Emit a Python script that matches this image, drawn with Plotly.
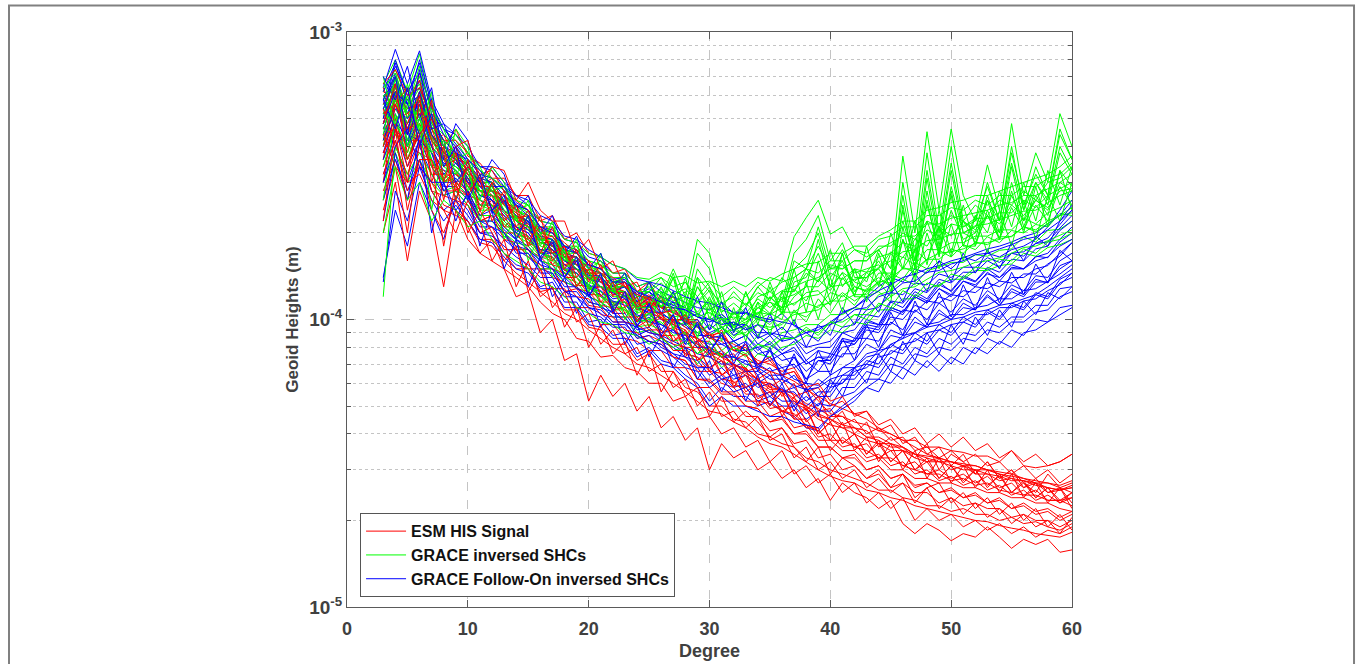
import plotly.graph_objects as go

# Spherical-harmonic degree 3..60
degrees = list(range(3, 61))

# Geoid height per degree, in units of 1e-5 m
UNIT = 1e-5

esm_his_signal = [
    [58, 70, 50, 72, 55, 40, 46, 37, 35, 31, 31, 27, 27, 22, 23, 19, 20, 17, 16.5, 14.5, 15, 12.5, 13.5, 11.5, 12, 10, 10, 8.6, 9.2, 7.8, 8.0, 7.0, 7.2, 6.4, 6.6, 5.6, 5.8, 5.0, 5.2, 4.7, 4.8, 4.3, 4.5, 4.0, 4.2, 3.7, 4.0, 3.6, 3.9, 3.5, 3.7, 3.3, 3.5, 3.2, 3.4, 3.1, 3.2, 3.4],
    [20, 30, 16, 28, 22, 13, 24, 19, 17, 16, 15, 12, 12.5, 9, 10, 7.2, 7.6, 5.2, 6.4, 5.4, 6.0, 4.8, 5.4, 4.2, 4.6, 3.8, 4.2, 3.0, 3.7, 3.3, 3.5, 3.0, 3.2, 2.8, 3.0, 2.6, 2.8, 2.35, 2.7, 2.5, 2.4, 2.2, 2.35, 1.95, 1.8, 1.95, 1.85, 1.7, 1.8, 1.75, 1.9, 1.75, 1.6, 1.72, 1.65, 1.72, 1.55, 1.58],
    [28, 36, 26, 36, 24, 20, 26, 21, 17, 19, 15, 14, 13, 11.5, 10.5, 10, 8.6, 8.4, 7.4, 7.5, 6.8, 6.6, 6.0, 6.0, 5.2, 5.4, 4.5, 4.6, 4.0, 4.2, 3.6, 3.8, 3.2, 3.5, 2.9, 3.1, 2.7, 2.9, 2.5, 2.7, 2.3, 2.5, 2.2, 2.4, 2.0, 2.2, 2.0, 2.1, 1.9, 2.0, 1.85, 1.95, 1.8, 1.9, 1.75, 1.85, 1.8, 1.9],
    [62, 58, 48, 62, 42, 44, 36, 35, 29, 31, 25, 25, 21, 21, 18, 18, 15.5, 15.5, 13.5, 13.8, 12, 12.5, 11, 11.5, 10, 10, 8.4, 8.4, 7.4, 7.6, 6.6, 6.8, 5.8, 6.2, 5.4, 5.6, 4.8, 4.9, 4.3, 4.5, 4.0, 4.2, 3.8, 3.9, 3.5, 3.6, 3.3, 3.5, 3.2, 3.4, 3.1, 3.2, 2.9, 3.1, 2.8, 3.0, 2.7, 2.9],
    [42, 60, 38, 54, 34, 36, 30, 31, 25, 27, 21, 23, 18, 19.5, 15.5, 17, 13, 14.5, 11.5, 12.8, 10.5, 11.2, 9.5, 10.2, 8.4, 8.9, 7.2, 7.6, 6.4, 6.8, 5.6, 6.0, 5.0, 5.6, 4.6, 4.9, 4.0, 4.4, 3.7, 4.0, 3.4, 3.7, 3.2, 3.5, 3.0, 3.2, 2.8, 3.1, 2.75, 3.0, 2.65, 2.85, 2.5, 2.75, 2.4, 2.6, 2.35, 2.5],
    [38, 46, 40, 38, 36, 28, 28, 27, 22, 23, 20, 17.5, 17.5, 15, 15, 12.5, 12.8, 11.2, 11, 9.8, 9.8, 8.6, 8.8, 8.4, 7.4, 7.2, 6.2, 6.2, 5.6, 5.6, 5.0, 4.9, 4.4, 4.6, 4.0, 4.1, 3.6, 3.6, 3.3, 3.4, 3.0, 3.1, 2.8, 2.9, 2.6, 2.7, 2.5, 2.6, 2.4, 2.5, 2.3, 2.4, 2.2, 2.3, 2.15, 2.2, 2.05, 2.15],
    [50, 64, 58, 68, 46, 40, 36, 32, 28, 28, 25, 23, 21, 19.5, 18, 16.5, 15.5, 14.5, 13.5, 13, 12.5, 11.5, 11.5, 11, 10.5, 10, 9.6, 8.8, 8.6, 8.2, 7.8, 7.2, 7.0, 6.6, 6.8, 5.8, 5.2, 4.7, 4.6, 4.2, 4.1, 3.7, 3.7, 3.5, 3.4, 3.2, 3.3, 3.0, 3.1, 2.9, 2.9, 2.75, 2.8, 2.6, 2.7, 2.5, 2.55, 2.6],
    [34, 44, 42, 42, 38, 31, 33, 27, 26, 24, 23, 19.5, 19.5, 16.5, 16.5, 14, 14, 12.2, 12.2, 10.8, 11, 9.4, 10, 8.8, 8.8, 7.6, 7.4, 6.6, 6.5, 5.9, 5.8, 5.2, 5.1, 4.8, 4.7, 4.3, 4.1, 3.8, 3.8, 3.6, 3.5, 3.3, 3.3, 3.1, 3.0, 2.9, 2.9, 2.75, 2.8, 2.65, 2.7, 2.55, 2.5, 2.45, 2.45, 2.35, 2.35, 2.25],
    [64, 50, 52, 58, 42, 38, 36, 30, 28, 27, 24, 22, 21, 18.5, 18, 16, 15, 14, 13, 12.5, 11.5, 11, 10.5, 10.2, 9.4, 9.0, 8.0, 7.6, 7.2, 6.8, 6.4, 6.0, 5.6, 5.6, 5.1, 4.9, 4.5, 4.3, 4.2, 4.0, 3.8, 3.7, 3.5, 3.5, 3.3, 3.2, 3.2, 3.1, 3.0, 3.0, 2.9, 2.85, 2.75, 2.75, 2.65, 2.6, 2.55, 2.6],
    [26, 40, 32, 42, 28, 27, 26, 25, 20, 21, 17.5, 17.5, 15, 15, 12.8, 12.8, 11, 11, 9.6, 9.6, 8.6, 8.4, 7.8, 7.8, 6.8, 6.8, 5.8, 5.8, 5.2, 5.2, 4.6, 4.6, 4.1, 4.2, 3.7, 3.8, 3.3, 3.4, 3.0, 3.1, 2.8, 2.9, 2.6, 2.7, 2.5, 2.5, 2.3, 2.4, 2.25, 2.3, 2.2, 2.2, 2.05, 2.1, 2.0, 2.0, 1.9, 2.0],
    [48, 62, 54, 56, 44, 37, 37, 31, 30, 27, 26, 22, 22, 18.5, 18.5, 15.5, 16, 13.8, 13.8, 12.2, 12.5, 10.8, 11.4, 10, 10, 8.8, 8.6, 7.6, 7.6, 6.9, 6.8, 6.1, 6.0, 5.7, 5.5, 5.1, 4.9, 4.6, 4.6, 4.4, 4.3, 4.1, 4.0, 3.8, 3.8, 3.6, 3.6, 3.5, 3.45, 3.35, 3.35, 3.2, 3.5, 3.1, 3.05, 3.1, 3.2, 3.4],
    [46, 50, 34, 46, 34, 33, 30, 28, 23, 25, 20, 20, 17.5, 16.5, 15, 14.5, 12.8, 12.5, 11.2, 11, 9.8, 9.6, 9.0, 8.8, 7.8, 7.8, 6.6, 6.6, 6.0, 5.8, 5.2, 5.2, 4.6, 4.8, 4.2, 4.3, 3.8, 3.8, 3.5, 3.5, 3.2, 3.3, 3.0, 3.0, 2.8, 2.8, 2.7, 2.7, 2.6, 2.6, 2.5, 2.5, 2.4, 2.4, 2.3, 2.3, 2.2, 2.15],
    [36, 62, 44, 56, 44, 34, 36, 29, 28, 25, 24, 20.5, 21, 17, 17.5, 14.8, 15, 12.8, 13, 11.2, 11.8, 9.8, 10.8, 9.0, 9.4, 8.0, 8.0, 6.8, 7.2, 6.0, 6.4, 5.3, 5.6, 4.8, 5.0, 4.2, 4.2, 3.5, 3.9, 3.6, 3.7, 3.3, 3.5, 3.1, 3.2, 2.9, 3.0, 2.8, 2.9, 2.7, 2.85, 2.6, 2.7, 2.45, 2.55, 2.35, 2.35, 2.4],
    [32, 42, 28, 34, 30, 25, 24, 22, 19, 19, 17, 15, 15, 12.5, 12.8, 10.8, 10.8, 9.4, 9.2, 8.2, 8.2, 7.2, 7.6, 6.6, 6.6, 5.8, 5.6, 5.0, 5.0, 4.5, 4.4, 4.0, 3.9, 3.7, 3.6, 3.3, 3.2, 3.0, 2.9, 2.8, 2.7, 2.55, 2.55, 2.4, 2.35, 2.25, 2.25, 2.15, 2.2, 2.1, 2.1, 2.0, 2.05, 1.95, 1.98, 1.9, 1.85, 1.95],
    [56, 66, 46, 60, 50, 38, 40, 32, 31, 28, 27, 22.5, 23, 19, 19.5, 16.5, 16.5, 14.5, 14.5, 13, 13.5, 11.5, 12.2, 11, 11, 9.8, 9.4, 8.6, 8.4, 7.8, 7.5, 6.9, 6.6, 6.4, 6.1, 5.7, 5.4, 5.1, 4.9, 4.7, 4.5, 4.2, 4.0, 3.8, 3.6, 3.4, 3.3, 3.2, 3.1, 3.0, 3.0, 2.9, 2.8, 2.75, 2.7, 2.6, 2.55, 2.65],
    [44, 46, 36, 46, 32, 32, 29, 27, 22, 23, 19, 18.5, 16.5, 15.5, 14, 13.5, 12, 11.8, 10.4, 10.2, 9.2, 9.0, 8.4, 8.2, 7.4, 7.2, 6.2, 6.1, 5.5, 5.5, 5.0, 4.9, 4.4, 4.5, 4.0, 4.0, 3.6, 3.6, 3.3, 3.3, 3.0, 3.1, 2.8, 2.9, 2.65, 2.7, 2.5, 2.55, 2.4, 2.45, 2.3, 2.35, 2.2, 2.25, 2.1, 2.15, 2.0, 2.1],
    [66, 74, 60, 64, 50, 42, 42, 38, 32, 33, 28, 26, 24, 22, 20, 18.5, 17, 16, 14.5, 14, 13, 12.2, 11.8, 11, 10.2, 9.4, 8.6, 8.0, 7.6, 7.0, 6.7, 6.2, 5.8, 5.7, 5.3, 5.0, 4.7, 4.5, 4.3, 4.2, 3.9, 3.9, 3.7, 3.6, 3.4, 3.35, 3.3, 3.2, 3.15, 3.1, 3.0, 2.95, 2.9, 2.8, 2.75, 2.7, 2.65, 2.75],
    [40, 56, 46, 48, 40, 30, 32, 30, 24, 26, 21, 21, 18.5, 17.5, 15.5, 15, 13.2, 13, 11.5, 11.5, 10.2, 10.2, 9.2, 9.2, 8.2, 8.0, 6.9, 6.8, 6.2, 6.1, 5.5, 5.5, 4.9, 5.0, 4.5, 4.5, 3.9, 4.0, 3.6, 3.7, 3.3, 3.4, 3.1, 3.2, 2.9, 3.0, 2.75, 2.85, 2.65, 2.75, 2.55, 2.65, 2.45, 2.55, 2.35, 2.45, 2.3, 2.4],
    [24, 34, 30, 32, 26, 24, 23, 22, 18.5, 18, 16, 14.5, 13.5, 12.5, 11.5, 10.5, 10, 9.2, 8.6, 8.0, 7.6, 7.0, 6.8, 6.4, 6.0, 5.6, 5.2, 4.8, 4.7, 4.4, 4.2, 3.9, 3.7, 3.6, 3.4, 3.2, 3.0, 2.85, 2.75, 2.7, 2.55, 2.5, 2.4, 2.35, 2.25, 2.2, 2.15, 2.1, 2.05, 2.0, 1.98, 1.92, 1.88, 1.85, 1.8, 1.78, 1.75, 1.82],
    [52, 56, 44, 52, 46, 36, 38, 33, 29, 29, 25, 23.5, 21.5, 20, 18, 17, 15.5, 14.8, 13.5, 12.8, 12, 11.4, 10.8, 10.4, 9.6, 9.2, 8.2, 7.8, 7.4, 7.0, 6.5, 6.2, 5.7, 5.7, 5.2, 5.0, 4.6, 4.5, 4.2, 4.2, 3.9, 3.8, 3.6, 3.6, 3.4, 3.3, 3.2, 3.2, 3.1, 3.1, 3.0, 2.9, 2.85, 2.8, 2.7, 2.7, 2.6, 2.7],
    [30, 56, 64, 40, 58, 30, 40, 42, 30, 34, 33, 26, 30, 24, 22, 22, 17, 19, 15, 16, 13, 13.5, 11, 12, 9.6, 10.4, 8.4, 9.0, 7.8, 7.2, 7.6, 6.2, 6.6, 5.4, 6.0, 4.8, 5.4, 4.4, 4.8, 4.0, 4.4, 3.6, 3.9, 3.6, 3.3, 3.7, 3.0, 3.4, 3.2, 2.9, 3.2, 2.8, 3.0, 2.7, 2.5, 2.9, 2.6, 2.5],
    [44, 34, 20, 42, 28, 24, 20, 26, 22, 16, 19, 13, 16, 12, 13, 9.4, 11, 8.0, 9.6, 7.6, 8.4, 6.4, 7.8, 5.6, 6.6, 5.4, 5.8, 4.6, 5.4, 4.4, 4.8, 4.4, 3.9, 4.2, 3.6, 3.2, 3.6, 2.9, 3.3, 3.1, 2.8, 3.0, 2.6, 2.9, 2.4, 2.6, 2.7, 2.3, 2.5, 2.2, 2.4, 2.1, 2.3, 2.0, 2.2, 1.9, 2.1, 1.85],
    [54, 40, 48, 60, 30, 40, 28, 34, 31, 22, 26, 24, 18, 23, 16, 18, 13, 15, 14, 10.5, 12.5, 9.8, 11.8, 8.6, 10, 7.4, 8.4, 6.6, 7.6, 5.8, 6.8, 5.0, 6.0, 4.6, 5.4, 4.4, 4.8, 3.8, 4.4, 3.5, 3.9, 3.2, 3.7, 3.0, 3.5, 2.8, 3.3, 2.7, 3.1, 2.6, 3.0, 2.5, 2.9, 2.4, 2.7, 2.3, 2.6, 2.2],
    [38, 48, 30, 58, 42, 26, 38, 27, 32, 24, 28, 21, 24, 17, 21, 15, 17.5, 13.5, 15.5, 12, 13.5, 11, 12, 10.5, 10.8, 9.8, 9.8, 8.8, 9.0, 7.8, 8.2, 7.0, 7.4, 6.4, 6.6, 5.8, 6.0, 5.2, 5.4, 4.6, 4.8, 4.1, 4.3, 3.7, 3.9, 3.4, 3.6, 3.1, 3.4, 2.9, 3.2, 2.8, 3.0, 2.6, 2.8, 2.5, 2.6, 2.3],
    [22, 46, 24, 36, 36, 18, 30, 20, 24, 20, 16, 18, 12.5, 15, 11, 12.5, 9.8, 10.5, 8.2, 9.2, 7.6, 8.0, 6.6, 7.0, 5.8, 6.2, 5.0, 5.6, 4.6, 4.8, 4.2, 4.6, 3.8, 4.0, 3.3, 3.6, 3.0, 3.2, 2.8, 3.0, 2.6, 2.8, 2.5, 2.7, 2.3, 2.6, 2.2, 2.4, 2.1, 2.3, 2.05, 2.2, 1.95, 2.1, 1.9, 2.0, 1.8, 2.05],
    [48, 66, 36, 44, 50, 38, 26, 36, 24, 30, 22, 25, 19, 21, 17, 18, 14, 16, 12, 13.5, 11, 12, 9.4, 10.6, 8.4, 9.2, 7.2, 8.0, 6.4, 7.0, 5.8, 6.2, 5.0, 5.6, 4.5, 5.0, 4.0, 4.4, 3.7, 4.0, 3.4, 3.8, 3.2, 3.5, 3.0, 3.3, 2.8, 3.1, 2.7, 3.0, 2.6, 2.9, 2.5, 2.7, 2.4, 2.6, 2.3, 2.5],
]

grace_inversed = [
    [66, 80, 62, 84, 55, 46, 42, 36, 32, 31, 28, 25, 24, 21, 21, 18, 18, 16, 15.5, 14, 14, 12.5, 13, 12, 15, 12, 19, 17, 11.5, 10, 11, 13, 14, 13.6, 19.4, 22.6, 26, 19.8, 21, 17.5, 16.5, 17.5, 15, 37, 20, 45, 24, 46, 27, 22, 34.5, 24, 48, 27, 38, 30, 52, 40],
    [50, 66, 56, 70, 50, 42, 38, 34, 30, 30, 27, 24, 23, 20, 20, 17.5, 17, 15.5, 15, 13.5, 13.5, 12, 12.5, 11.5, 14, 11, 17, 15, 10.5, 9.5, 10, 12, 12.5, 11.5, 17, 19, 23, 16, 18.5, 14, 14, 15, 13, 30, 17, 38, 20, 40, 22, 20, 30, 22, 40, 24, 34, 27, 44, 36],
    [58, 70, 50, 62, 46, 40, 36, 33, 29, 29, 26, 23.5, 22, 19.5, 19, 17, 16.5, 15, 14.5, 13, 13, 11.5, 12, 11, 12.5, 10, 15, 13, 10, 9.2, 9.5, 11, 11.5, 10.5, 15, 16.5, 20, 14, 16, 13, 12.5, 13.5, 12, 25, 15, 31, 18, 33, 20, 19, 27, 20, 34, 22, 30, 25, 38, 32],
    [46, 60, 48, 58, 44, 38, 35, 31, 28, 27, 25, 22, 21, 18.5, 18, 16, 16, 14, 14, 12.5, 12.5, 11, 11.5, 10.5, 11.5, 9.6, 13, 11.5, 9.4, 8.8, 9.0, 10, 10.5, 10, 13.5, 14, 17, 13, 14.5, 12, 12, 12.5, 11.5, 21, 14, 26, 16.5, 28, 18, 18, 24, 19, 30, 21, 27, 23, 33, 29],
    [62, 74, 58, 66, 48, 44, 40, 34, 31, 30, 27, 24, 23, 20, 19.5, 17.5, 17, 15.5, 14.5, 13.5, 13, 12, 12, 11, 12, 10.5, 14, 12.5, 10, 9.4, 9.8, 10.5, 11.5, 11, 14, 15, 18, 15, 15.5, 13.5, 13, 14, 13, 19, 15.5, 22, 17, 24, 19, 20, 23, 20, 27, 22, 26, 24, 30, 28],
    [40, 58, 44, 60, 42, 36, 34, 32, 27, 28, 24, 22, 20.5, 19, 17.5, 16.5, 15, 14.5, 13, 12.8, 12, 11.5, 10.8, 11.5, 14.5, 10.5, 11.5, 10.5, 10, 9.5, 12.5, 10, 13.5, 10.5, 12, 13, 19, 13, 17, 12.5, 14, 16, 13.5, 24, 15, 28, 17, 29, 20, 21, 26, 22, 35, 24, 30, 26, 40, 33],
    [54, 62, 46, 56, 46, 40, 36, 32, 29, 28, 25.5, 23, 21.5, 19, 18.5, 16.5, 16, 14.5, 14, 12.8, 12.5, 11.2, 11.5, 11, 12.5, 10.2, 13, 11, 10.2, 9.6, 10.5, 10.2, 12, 11, 16, 15, 21, 15, 17.5, 14.5, 15, 15.5, 14, 27, 16, 33, 19, 35, 21, 22, 29, 22, 38, 25, 32, 27, 46, 36],
    [54, 68, 52, 60, 47, 42, 38, 35, 30, 30, 27, 25, 23.5, 21, 20, 18, 17.5, 16, 15.5, 14.5, 14.5, 13, 13.5, 14, 13, 13.5, 12, 13.5, 12, 13, 12, 13.5, 12.5, 13.5, 14, 15, 14.5, 16, 16, 17.5, 17, 19, 19.5, 21, 21, 23, 23, 24.5, 24, 26, 25, 27, 27, 29, 29, 31, 32, 35],
    [42, 56, 44, 52, 40, 36, 34, 31, 27, 27, 24, 22, 21, 18.5, 18.5, 16, 16, 14, 14, 12.8, 13, 11.5, 12, 12.8, 11.6, 12, 10.6, 11.8, 10.6, 11.4, 10.5, 11.8, 11, 11.8, 12.2, 13, 13, 14.5, 13.8, 15, 14.6, 16.5, 17, 18.5, 18, 20.5, 19.5, 21.5, 21, 22.5, 22.5, 23.5, 23.5, 26, 24.5, 27, 28.5, 30],
    [48, 54, 46, 50, 42, 37, 33, 30, 27, 26, 23.5, 21, 20.5, 18, 17.5, 15.5, 15, 13.5, 13, 12, 12, 10.5, 11, 11.2, 10.2, 10.4, 9.4, 10.2, 9.4, 9.8, 9.2, 10.2, 9.6, 10.6, 10.6, 11.4, 11, 12.4, 12, 13, 12.6, 14.5, 14.5, 16.5, 15.5, 17.5, 17.5, 18.5, 18.5, 19.5, 19.5, 20.5, 20.5, 22.5, 21.5, 23.5, 24.5, 26],
    [36, 46, 36, 44, 36, 32, 30, 27, 24, 24, 21, 19.5, 18.5, 16.5, 16, 14.5, 14, 12.5, 12, 11, 11, 9.8, 10, 9.8, 8.8, 9.0, 8.0, 8.8, 7.8, 8.4, 7.8, 8.8, 8.2, 9.0, 9.2, 9.6, 9.6, 10.4, 10.4, 11, 10.8, 12.2, 12.6, 13.8, 13.2, 14.8, 15.2, 15.8, 15.8, 16.8, 16.6, 17.4, 17.6, 19.4, 18.6, 20.4, 20.6, 22],
    [30, 38, 30, 36, 30, 27, 28, 25, 22, 22, 19.5, 18, 17, 15, 15, 13.5, 13, 11.5, 11.2, 10.2, 10.2, 9.0, 9.2, 8.8, 7.8, 8.0, 7.0, 7.8, 6.8, 7.4, 6.8, 7.6, 7.4, 8.0, 8.2, 8.8, 8.6, 9.2, 9.0, 9.8, 9.6, 10.8, 10.8, 11.8, 11.8, 12.8, 13.2, 13.8, 13.8, 14.8, 14.8, 15.4, 15.6, 17, 16.6, 17.8, 18.2, 19],
    [60, 50, 54, 64, 44, 39, 36, 32, 28, 28, 25, 22.5, 22, 19, 19, 16.5, 16.5, 14.5, 14.5, 13, 13, 11.5, 12, 12.5, 11.2, 12.5, 10.4, 11.6, 10.8, 10.4, 11.4, 10.4, 12, 10.8, 12.8, 11.6, 13.8, 12.6, 14.6, 13.6, 14.6, 15, 17.2, 16.4, 19, 18, 21, 19.5, 22, 20.5, 23, 21.5, 25, 23, 26, 24.5, 28, 28.5],
    [40, 62, 42, 56, 38, 34, 32, 29, 26, 25, 22.5, 20.5, 19.5, 17.5, 17, 15, 14.5, 13, 12.5, 11.5, 11.5, 10.2, 10.5, 10.6, 9.8, 10, 9.0, 9.6, 8.8, 9.4, 8.8, 9.6, 9.2, 9.8, 10.4, 10.6, 10.8, 11.6, 11.6, 12.2, 12.2, 13.4, 14, 15, 15, 16.2, 17, 17.2, 17.6, 18.4, 18.5, 19, 19.5, 21, 20.5, 22, 23, 24.5],
    [52, 64, 50, 58, 46, 40, 36, 33, 29, 29, 26, 24, 22.5, 20, 19.5, 17, 17, 15, 15, 13.5, 13.5, 12, 12.5, 13.4, 12.2, 12.8, 11.4, 12.6, 11.4, 12, 11.2, 12.4, 11.8, 12.6, 13, 13.6, 14, 15, 15, 16, 16, 17.5, 18.5, 19.5, 19.5, 21.5, 21.5, 22.5, 23, 23.5, 24, 25, 25.5, 27, 27, 28.5, 30, 32],
    [34, 48, 40, 48, 34, 30, 31, 28, 25, 24, 22, 20, 19, 17, 16.5, 14.5, 14.5, 12.8, 12.5, 11.2, 11.5, 9.8, 10.5, 9.6, 10.4, 8.8, 9.8, 8.8, 9.4, 8.6, 9.6, 8.8, 10.2, 9.2, 10.8, 9.8, 11.8, 10.5, 12.2, 11.2, 12.8, 12.5, 14.4, 13.8, 15.8, 15, 17.4, 16.5, 18.2, 17.5, 19.4, 18.5, 20.4, 20, 21.4, 21, 23.4, 23],
    [56, 58, 48, 54, 43, 38, 35, 31, 28, 27, 24, 22, 21, 18.5, 18, 16, 15.5, 14, 13.5, 12.5, 12.5, 11, 11.5, 11.6, 11, 11, 10.2, 10.6, 10, 10.2, 10, 10.6, 10.4, 11, 11.4, 12, 12.2, 13, 13.2, 13.8, 14, 15.2, 16, 17.2, 17.5, 18.8, 19, 19.8, 20, 21.2, 21.5, 22.2, 23, 23.8, 24, 25.4, 27, 28],
    [12, 40, 32, 38, 32, 28, 29, 26, 23, 23, 20, 18.5, 18, 16, 15.5, 14, 13.5, 12, 11.5, 10.8, 10.8, 9.4, 9.6, 9.2, 8.4, 8.6, 7.6, 8.4, 7.4, 8.0, 7.4, 8.2, 7.8, 8.6, 8.6, 9.2, 9.0, 9.8, 9.8, 10.4, 10.4, 11.2, 12, 12.8, 13, 13.8, 14.6, 14.8, 15.2, 15.8, 16, 16.4, 17, 17.8, 18, 18.8, 19.6, 20.5],
    [64, 72, 54, 76, 52, 40, 44, 38, 33, 31, 29, 26, 25, 22, 21.5, 19, 18.5, 17, 16.5, 15.5, 15, 14, 13.8, 14.6, 14, 14.2, 13.4, 13.6, 13, 13.6, 13, 14, 13.6, 14.4, 15, 15.6, 15.8, 17, 17, 18, 18, 19.5, 20.5, 22, 22, 24, 24.5, 25.5, 26, 27, 27, 28, 29, 30, 31, 32, 34, 37],
    [46, 44, 38, 50, 36, 30, 33, 29, 25, 25, 21.5, 20, 19, 17, 16.2, 15, 14, 13, 12, 11.4, 10.8, 10, 9.8, 10.4, 9.4, 9.8, 8.8, 9.6, 9.0, 9.2, 8.8, 9.6, 9.4, 9.6, 10.6, 10.2, 11.2, 11.4, 12.4, 11.6, 12.4, 13.6, 13.4, 15.2, 14.6, 16.2, 16.2, 17.6, 17, 18.6, 18.2, 19.4, 19.4, 21, 20.2, 21.6, 23, 23.5],
    [70, 46, 66, 44, 62, 30, 46, 40, 26, 34, 30, 22, 26, 18, 22, 16, 19, 13, 17, 12.5, 14.5, 10.5, 13.5, 11, 14, 9.5, 14, 10, 12.5, 9, 12.5, 9.6, 13, 10.4, 15, 10.6, 16, 11.5, 17, 12, 18, 13, 20, 15, 22, 15.5, 24, 17, 25, 18, 26, 19, 28, 20, 29, 21, 33, 24],
    [26, 52, 36, 48, 24, 40, 26, 34, 22, 30, 19, 23, 16, 20, 14, 17.5, 13, 15, 11, 13.5, 10, 12, 9.4, 12.5, 9.2, 12, 8.6, 11.5, 8.4, 11, 8.4, 11.5, 8.8, 12.5, 9.6, 13.5, 10, 14, 10.6, 15, 11.5, 17, 12.5, 19, 13.5, 20, 15, 21.5, 16, 23, 17, 24, 18, 26, 19, 27, 22, 30],
    [44, 70, 40, 54, 50, 34, 38, 28, 32, 24, 26, 19, 23, 17, 19, 15, 16.5, 12.5, 14.5, 11, 12.5, 11, 10, 12, 10.5, 11.5, 9.4, 11, 9.2, 10.5, 10, 11, 10.4, 12, 11.2, 12.4, 12.6, 11.2, 14, 12.2, 14.6, 13.2, 17, 15, 17.5, 16, 21, 16.5, 22, 18.5, 23, 19, 24.5, 20.5, 25, 22, 29, 25],
    [60, 64, 58, 50, 54, 46, 36, 38, 34, 28, 29, 24, 25, 20, 21, 17, 18, 15, 16, 13.5, 14, 12.5, 12.5, 14, 12, 13.5, 11.5, 13, 11, 12.5, 11.2, 13, 11.6, 14, 12.5, 14.5, 13.5, 15.5, 15, 16, 16, 18, 18, 20, 19, 22, 21, 23, 22, 25, 23, 26, 25, 28, 26, 30, 31, 34],
    [20, 34, 26, 30, 22, 26, 24, 21, 22, 19, 17, 16, 15, 13.5, 13, 12, 11, 10.5, 9.8, 9.6, 9.0, 8.8, 8.2, 8.6, 8.0, 8.4, 7.6, 8.0, 7.4, 8.0, 7.6, 8.2, 8.0, 8.6, 8.6, 9.4, 8.8, 9.8, 9.4, 10.4, 10, 11.4, 11, 12.6, 12, 13.4, 13, 14.4, 14, 15.2, 15, 16.2, 16, 17.6, 17, 18.6, 19, 20],
    [52, 48, 60, 46, 38, 42, 32, 36, 28, 29, 24, 22, 21, 19, 17, 16.5, 15, 14, 13, 12.5, 12, 11, 11, 13, 10.5, 14, 10.2, 12, 9.6, 10.6, 9.6, 11.5, 10.5, 12.5, 12.5, 15, 13.5, 17.5, 13, 15, 13.5, 17.5, 15, 22, 16, 25, 17.5, 27, 18, 23, 20, 28, 21, 30, 22, 33, 25, 34],
]

grace_fo_inversed = [
    [64, 87, 66, 86, 58, 48, 44, 38, 34, 33, 29, 27, 25, 22, 21.5, 19, 18.5, 16.5, 16, 14.5, 14.5, 13, 13.5, 12.5, 12, 11.5, 11, 10.8, 11.5, 10.5, 10.5, 10, 9.8, 10.5, 9.5, 9.0, 9.2, 9.8, 10.5, 11, 12, 13, 14, 13.5, 15, 14.5, 16, 15, 16.5, 16, 17, 16.5, 17.5, 18, 19, 21, 24, 28],
    [14, 24, 18, 30, 24, 19, 27, 24, 20, 20, 17, 15.5, 15, 13, 13.5, 11.5, 11.5, 9.8, 10, 8.8, 9.0, 7.6, 8.0, 7.2, 7.0, 6.4, 6.0, 5.2, 5.8, 5.4, 5.4, 5.0, 5.2, 4.8, 4.6, 4.2, 4.1, 4.6, 5.0, 5.4, 5.8, 6.2, 6.0, 6.8, 6.4, 7.2, 6.6, 7.4, 7.0, 8.0, 7.6, 8.4, 8.0, 9.0, 9.2, 9.8, 10.4, 11],
    [40, 50, 36, 46, 36, 30, 30, 27, 23, 23, 21, 19, 18, 16, 15.5, 13.5, 13, 12, 11.5, 10.5, 10.5, 9.2, 9.4, 8.6, 8.2, 7.6, 7.4, 6.8, 7.2, 6.4, 6.6, 6.0, 6.4, 5.6, 5.8, 5.2, 5.6, 5.6, 6.4, 6.4, 7.2, 7.0, 8.2, 7.8, 9.0, 8.4, 9.6, 9.0, 10.2, 9.6, 10.8, 10.2, 11.4, 11, 12.4, 12, 13.8, 14.5],
    [56, 72, 52, 68, 48, 42, 38, 34, 30, 30, 26, 24, 22.5, 20, 19.5, 17, 16.5, 15, 14.5, 13, 13.5, 11.5, 12.5, 11, 11.5, 10, 10.5, 9.2, 10, 8.8, 9.4, 8.2, 8.8, 7.8, 8.4, 7.2, 7.8, 7.6, 9.0, 8.6, 10, 9.6, 11.5, 11, 12.5, 11.8, 13.5, 12.5, 14, 13.5, 15, 14, 15.5, 15, 16.5, 17, 19, 21],
    [46, 58, 48, 54, 42, 36, 34, 31, 27, 26, 23.5, 21, 20, 17.5, 17.5, 15, 15, 13, 13, 11.8, 12, 10.2, 10.8, 10, 9.6, 9.0, 8.6, 8.2, 8.2, 7.8, 7.8, 7.0, 7.4, 6.8, 7.0, 6.2, 6.6, 6.6, 7.6, 7.6, 8.6, 8.4, 9.8, 9.2, 10.8, 10, 11.4, 10.6, 11.8, 11.2, 12.6, 11.8, 13.2, 12.6, 14.2, 14, 16, 17],
    [60, 66, 56, 60, 46, 40, 37, 33, 29, 28, 25, 23, 21.5, 19, 18.5, 16.5, 16, 14, 14, 12.8, 13, 11.2, 11.8, 11, 10.6, 10, 9.4, 9.0, 9.4, 8.4, 8.8, 8.0, 8.2, 7.6, 7.8, 7.0, 7.4, 7.4, 8.6, 8.4, 9.8, 9.6, 11, 10.6, 12, 11.4, 12.8, 12, 13.6, 13, 14.6, 13.6, 15.2, 15, 16.6, 16.4, 18.6, 20],
    [32, 42, 30, 40, 32, 27, 28, 25, 21, 21, 19, 17.5, 16.5, 15, 14.5, 12.5, 12.5, 11, 10.8, 9.8, 9.8, 8.6, 8.8, 8.0, 7.6, 7.0, 6.8, 6.0, 6.4, 5.8, 6.0, 5.4, 5.6, 5.2, 5.2, 4.7, 5.1, 5.0, 5.8, 5.8, 6.6, 6.4, 7.4, 7.0, 8.0, 7.6, 8.6, 8.2, 9.0, 8.8, 9.8, 9.4, 10.2, 10.2, 11.2, 11.2, 12.8, 13],
    [50, 80, 60, 78, 52, 46, 41, 36, 32, 31, 28, 25.5, 24, 21, 20.5, 18, 17.5, 15.5, 15, 13.8, 14, 12.2, 12.8, 12, 11.5, 11, 10.5, 10, 10.4, 9.6, 9.6, 9.0, 9.0, 8.8, 8.6, 8.0, 8.2, 8.4, 9.4, 9.6, 10.8, 11, 12.4, 12.2, 13.4, 13.2, 14.4, 14, 15.2, 15.2, 16.4, 15.8, 17, 17.2, 18.4, 19.2, 21.4, 24],
    [38, 52, 40, 50, 38, 33, 32, 29, 25, 25, 22, 20, 19, 17, 16.5, 14.5, 14, 12.8, 12.2, 11.2, 11.5, 9.6, 10.2, 9.0, 9.2, 8.2, 8.4, 7.4, 7.8, 6.8, 7.2, 6.4, 6.8, 6.0, 6.4, 5.6, 6.2, 5.8, 6.8, 6.8, 7.6, 7.8, 8.8, 8.6, 9.8, 9.4, 10.5, 10, 11, 10.8, 12, 11.2, 12.5, 12, 13.5, 13.5, 15, 16],
    [44, 56, 42, 52, 40, 35, 33, 30, 26, 25, 22.5, 20.5, 19.5, 17, 17, 14.8, 14.5, 12.8, 12.5, 11.5, 11.5, 10, 10.4, 9.6, 9.2, 8.6, 8.2, 7.8, 7.6, 7.4, 7.2, 7.0, 6.6, 6.8, 6.2, 6.0, 5.9, 6.4, 6.8, 7.2, 8.2, 7.8, 9.2, 8.8, 10.2, 9.4, 10.8, 10, 11.4, 10.8, 12.2, 11.2, 12.8, 12.2, 13.8, 13.4, 15.4, 16],
    [52, 62, 46, 58, 44, 38, 35, 32, 28, 27, 24, 22, 21, 18.5, 18, 16, 15.5, 13.8, 13.5, 12.2, 12.5, 10.8, 11.2, 10.4, 10, 9.4, 9.0, 8.6, 8.8, 8.0, 8.4, 7.6, 7.8, 7.2, 7.4, 6.6, 7.2, 7.2, 8.4, 8.4, 9.6, 9.4, 11, 10.6, 12.2, 11.6, 13.2, 12.6, 14.2, 13.6, 15.2, 14.6, 16.2, 16, 17.6, 18, 20.4, 22],
    [30, 46, 34, 42, 34, 29, 29, 26, 22, 22, 20, 18, 17.5, 15.5, 15, 13, 13, 11.5, 11.2, 10.2, 10.2, 8.8, 9.2, 8.4, 8.0, 7.4, 7.2, 6.4, 6.8, 6.2, 6.4, 5.8, 6.0, 5.6, 5.6, 5.0, 5.4, 5.4, 6.2, 6.2, 7.0, 6.8, 7.8, 7.6, 8.6, 8.2, 9.2, 8.8, 9.8, 9.4, 10.6, 10, 11.2, 10.8, 12.2, 11.8, 13.4, 14],
    [58, 76, 62, 72, 54, 44, 40, 35, 31, 30, 27, 25, 23, 20.5, 20, 17.5, 17, 15.5, 15, 13.5, 13.8, 12, 12.5, 11.6, 11.2, 10.8, 10.2, 9.8, 10.2, 9.2, 9.6, 8.6, 9.0, 8.4, 8.6, 7.6, 8.0, 8.0, 9.0, 9.2, 10.4, 10.2, 11.6, 11.4, 12.8, 12.4, 13.8, 13.4, 14.6, 14.6, 16, 15.2, 17, 16.6, 18.4, 18.6, 20.8, 23],
    [26, 36, 28, 36, 28, 24, 26, 23, 20, 19.5, 18, 16.5, 15.5, 14, 14, 12, 12, 10.5, 10.2, 9.4, 9.4, 8.2, 8.4, 7.8, 7.4, 6.8, 6.6, 5.8, 6.2, 5.6, 5.8, 5.2, 5.4, 5.0, 5.0, 4.5, 4.8, 4.8, 5.4, 5.6, 6.2, 6.2, 7.0, 6.8, 7.6, 7.4, 8.0, 7.8, 8.6, 8.4, 9.2, 9.0, 9.8, 9.8, 10.6, 10.8, 12, 12.5],
    [66, 60, 58, 64, 50, 40, 38, 33, 30, 28, 25.5, 23, 22, 19.5, 19, 16.5, 16.5, 14.2, 14.2, 12.5, 13, 11, 12, 10.5, 11, 9.6, 10, 8.8, 9.4, 8.4, 8.8, 7.8, 8.4, 7.6, 8.0, 7.0, 7.4, 7.2, 8.4, 8.2, 9.4, 9.2, 10.8, 10.4, 12, 11.4, 12.8, 12.2, 13.6, 13.2, 14.4, 14, 15, 15, 16, 16.5, 18, 19],
    [13.5, 28, 22, 34, 26, 22, 25, 22, 19, 18.5, 16.5, 15, 14.5, 12.8, 12.8, 11, 11, 9.6, 9.4, 8.6, 8.6, 7.4, 7.8, 7.0, 6.8, 6.2, 5.8, 5.0, 5.4, 5.0, 5.0, 4.8, 4.6, 4.6, 4.4, 4.3, 4.2, 4.6, 4.9, 5.2, 5.8, 5.6, 6.6, 6.2, 7.2, 6.8, 7.6, 7.0, 8.0, 7.6, 8.6, 8.2, 9.2, 8.8, 10, 9.8, 11, 11.2],
    [62, 78, 56, 80, 56, 46, 44, 40, 34, 34, 30, 27, 26, 23, 22, 19.5, 19, 17.5, 16.5, 15.5, 15, 13.8, 13.5, 13.2, 12.6, 12, 11.6, 11.4, 11, 10.6, 10.6, 10.2, 10, 9.8, 9.6, 9.0, 9.4, 9.6, 10.6, 11, 11.8, 12.6, 13.2, 14, 14.4, 15, 15.4, 16, 16.4, 17, 17.6, 18, 18.6, 19.4, 20, 21.5, 23, 26],
    [36, 48, 44, 42, 38, 28, 31, 28, 23, 24, 20.5, 19, 17.5, 16, 15, 14, 12.8, 12.2, 11, 10.6, 9.8, 9.4, 9.0, 8.8, 8.4, 8.0, 7.6, 7.4, 7.0, 7.0, 6.6, 6.6, 6.2, 6.2, 5.9, 5.7, 5.8, 6.2, 6.4, 6.8, 7.4, 7.6, 8.2, 8.6, 9.0, 9.4, 9.6, 10, 10.2, 10.6, 10.8, 11.2, 11.4, 11.8, 12.2, 13, 14, 15],
    [48, 66, 40, 62, 44, 38, 36, 30, 29, 26, 24, 22, 20.5, 19, 17.5, 16, 15, 14, 13, 12.4, 11.8, 11, 10.6, 10.6, 9.8, 9.6, 8.8, 8.8, 8.2, 8.4, 7.8, 8.0, 7.2, 7.6, 6.8, 7.2, 6.6, 7.6, 7.4, 8.6, 8.6, 9.6, 9.6, 10.8, 10.6, 11.6, 11.4, 12.2, 12, 13, 12.8, 13.6, 13.4, 14.4, 14.4, 15.6, 16.6, 18.5],
    [42, 54, 50, 56, 40, 32, 35, 31, 27, 26, 23, 21, 20, 17.5, 17, 15.5, 14.5, 13.2, 12.6, 11.6, 11.2, 10.4, 9.8, 9.6, 9.0, 8.8, 8.0, 8.0, 7.4, 7.4, 7.0, 6.8, 6.4, 6.4, 5.8, 6.0, 5.4, 6.0, 6.0, 6.8, 7.0, 7.8, 8.0, 8.8, 9.0, 9.6, 9.8, 10.4, 10.4, 11, 11.2, 11.8, 11.8, 12.6, 12.8, 13.6, 14.4, 15.5],
    [70, 58, 76, 50, 64, 36, 48, 42, 30, 36, 32, 24, 27, 20, 23, 17, 19.5, 15, 17, 13, 14.5, 11.5, 13.5, 10.5, 12.5, 9.6, 12, 9.2, 11.5, 9.0, 11, 8.6, 10.5, 8.4, 10, 8.0, 9.6, 8.8, 11, 9.6, 12, 10.6, 13.5, 11.5, 14.5, 12.5, 16, 13.5, 17, 14.5, 17.5, 15, 18.5, 16, 19.5, 18, 22, 25],
    [22, 38, 26, 44, 20, 30, 22, 28, 18, 24, 15, 19, 13, 16.5, 12, 14, 10.5, 12.5, 9.4, 11, 8.2, 9.6, 7.4, 8.8, 6.8, 8.0, 6.2, 7.2, 5.6, 6.8, 5.2, 6.4, 5.0, 6.0, 4.8, 5.8, 4.6, 6.2, 5.4, 6.8, 6.0, 7.6, 6.6, 8.4, 7.2, 9.0, 7.6, 9.6, 8.2, 10.2, 8.8, 10.8, 9.4, 11.6, 10.4, 12.4, 11.8, 13],
    [48, 62, 56, 44, 50, 42, 30, 34, 30, 24, 26, 20, 22, 16.5, 18.5, 14, 16, 12, 14, 11, 12.2, 9.8, 11.2, 9.2, 10.4, 8.4, 9.6, 7.8, 8.8, 7.4, 8.2, 6.8, 7.8, 6.4, 7.4, 6.2, 7.2, 7.0, 8.0, 8.2, 9.2, 9.0, 10.2, 10, 11.2, 10.8, 12, 11.6, 12.6, 12.4, 13.4, 13, 14, 14, 15, 15.4, 17, 18.5],
    [54, 70, 44, 74, 46, 48, 38, 36, 33, 29, 29, 25, 24, 21, 20, 18, 17, 15.5, 15, 13.5, 13.5, 12.5, 12, 11.5, 11, 10.8, 10.2, 10, 9.6, 9.8, 9.2, 9.6, 8.8, 9.4, 8.6, 9.0, 8.4, 9.6, 10, 10.8, 11, 12, 12.4, 13.4, 13.6, 14.6, 14.8, 15.6, 16, 16.8, 17, 17.6, 18.2, 19, 19.4, 20.5, 22, 24],
    [30, 40, 46, 34, 30, 30, 24, 27, 22, 21, 20, 17, 17, 14.5, 14.5, 12.5, 12, 11, 10.5, 9.6, 9.6, 8.8, 8.4, 8.2, 7.6, 7.4, 6.8, 6.8, 6.2, 6.4, 5.8, 6.0, 5.4, 5.8, 5.0, 5.4, 5.0, 5.8, 6.0, 6.6, 6.8, 7.4, 7.6, 8.2, 8.4, 9.0, 9.2, 9.6, 9.8, 10.4, 10.4, 11, 11, 11.6, 11.8, 12.6, 13.2, 14.5],
    [58, 46, 64, 40, 52, 34, 40, 26, 32, 24, 27, 19, 23, 16, 19, 14, 16.5, 12, 14.5, 10.6, 12.5, 9.4, 11.4, 8.8, 10.4, 8.2, 9.8, 7.6, 9.0, 7.0, 8.4, 6.6, 8.0, 6.2, 7.6, 6.0, 7.8, 6.4, 8.6, 7.2, 9.6, 8.0, 10.6, 8.8, 11.6, 9.6, 12.4, 10.2, 13.2, 10.8, 14, 11.4, 14.6, 12.2, 15.6, 13.4, 17.4, 16],
]

series_names = ["ESM HIS Signal", "GRACE inversed SHCs", "GRACE Follow-On inversed SHCs"]
series_colors = ["#ff0000", "#00ff00", "#0000ff"]

y_tick_values = [1e-5, 1e-4, 1e-3]
y_tick_text = ["10<sup>-5</sup>", "10<sup>-4</sup>", "10<sup>-3</sup>"]
y_minor_values = [2e-5, 3e-5, 4e-5, 5e-5, 6e-5, 7e-5, 8e-5, 9e-5,
                  2e-4, 3e-4, 4e-4, 5e-4, 6e-4, 7e-4, 8e-4, 9e-4]
x_tick_values = [0, 10, 20, 30, 40, 50, 60]

for s in (esm_his_signal, grace_inversed, grace_fo_inversed):
    for j, row in enumerate(s):
        if len(row) != len(degrees):
            print("length mismatch", j, len(row))

fig = go.Figure()
all_series = [esm_his_signal, grace_inversed, grace_fo_inversed]
n = max(len(s) for s in all_series)
draw_order = [1, 2, 0]  # per month: green, then blue, then red on top
for i in range(n):
    for k in draw_order:
        s = all_series[k]
        if i >= len(s):
            continue
        row = s[i]
        fig.add_trace(go.Scatter(
            x=degrees[:len(row)],
            y=[v * UNIT for v in row],
            mode="lines",
            line=dict(color=series_colors[k], width=1),
            name=series_names[k],
            legendgroup=series_names[k],
            showlegend=(i == 0),
            legendrank=k + 1,
            hoverinfo="skip",
        ))

font_family = "Liberation Sans, Arial, Helvetica, sans-serif"
axis_color = "#5a5a5a"
grid_color = "#c4c4c4"
text_color = "#404040"

fig.update_layout(
    width=1357,
    height=664,
    autosize=False,
    margin=dict(l=347, r=285, t=32, b=57),
    paper_bgcolor="white",
    plot_bgcolor="white",
    font=dict(family=font_family, color=text_color),
    showlegend=True,
    legend=dict(
        x=0.018, y=0.017, xanchor="left", yanchor="bottom",
        bgcolor="white", bordercolor="#555555", borderwidth=1,
        font=dict(family=font_family, size=16, color="#111111", weight="bold"),
        itemwidth=40,
        tracegroupgap=0,
        traceorder="normal",
    ),
    xaxis=dict(
        range=[0, 60],
        tickvals=x_tick_values,
        automargin=False,
        ticks="inside", ticklen=7, tickcolor=axis_color, tickwidth=1,
        showline=True, linecolor=axis_color, linewidth=1, mirror="allticks",
        showgrid=True, gridcolor=grid_color, griddash="dash", gridwidth=1,
        zeroline=False,
        ticklabelstandoff=5,
        tickfont=dict(family=font_family, size=18, color=text_color, weight="bold"),
        title=dict(text="Degree", standoff=6,
                   font=dict(family=font_family, size=18, color=text_color, weight="bold")),
    ),
    yaxis=dict(
        type="log",
        range=[-5, -3],
        tickvals=y_tick_values,
        ticktext=y_tick_text,
        automargin=False,
        ticks="inside", ticklen=7, tickcolor=axis_color, tickwidth=1,
        showline=True, linecolor=axis_color, linewidth=1, mirror="allticks",
        showgrid=True, gridcolor=grid_color, griddash="dash", gridwidth=1,
        zeroline=False,
        tickfont=dict(family=font_family, size=19, color=text_color, weight="bold"),
        title=dict(text="Geoid Heights (m)", standoff=6,
                   font=dict(family=font_family, size=17, color=text_color, weight="bold")),
        minor=dict(
            tickvals=y_minor_values,
            ticks="inside", ticklen=4, tickcolor=axis_color,
            showgrid=True, gridcolor=grid_color, griddash="dot", gridwidth=1,
        ),
    ),
    shapes=[dict(
        type="rect", xref="paper", yref="paper",
        x0=-0.4662, x1=1.389, y0=-0.2, y1=1.046,
        line=dict(color="#808080", width=2), fillcolor="rgba(0,0,0,0)",
        layer="above",
    )],
)

fig.write_html("out.html", config={"displayModeBar": False})
